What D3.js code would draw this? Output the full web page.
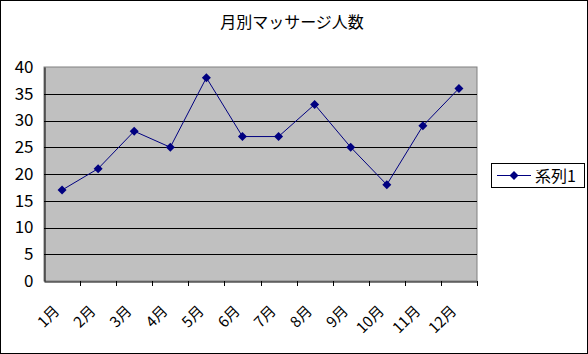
<!DOCTYPE html>
<html><head><meta charset="utf-8">
<script src="https://cdn.jsdelivr.net/npm/d3@7"></script>
<style>body{margin:0;background:#fff}svg{display:block}text{font-family:"Noto Sans CJK JP","Noto Sans",sans-serif;fill:#000}</style>
</head><body>
<script>
const title = "月別マッサージ人数";
const categories = ["1月","2月","3月","4月","5月","6月","7月","8月","9月","10月","11月","12月"];
const values = [17,21,28,25,38,27,27,33,25,18,29,36];
const yTicks = [0,5,10,15,20,25,30,35,40];
const seriesName = "系列1";

const W=588,H=354;
const svg=d3.select("body").append("svg").attr("width",W).attr("height",H);
svg.append("rect").attr("x",0.5).attr("y",0.5).attr("width",W-1).attr("height",H-1).attr("fill","#fff").attr("stroke","#000");
const L=44,R=477,T=67,B=281;
const x=d3.scaleBand().domain(categories).range([L,R]).padding(0);
const y=d3.scaleLinear().domain([0,40]).range([B,T]);

svg.append("rect").attr("x",L).attr("y",T).attr("width",R-L).attr("height",B-T).attr("fill","#c0c0c0").attr("stroke","#808080");
// gridlines
svg.append("g").selectAll("line").data(yTicks.filter(d=>d>0&&d<40)).join("line")
 .attr("x1",L).attr("x2",R).attr("y1",d=>Math.round(y(d))+0.5).attr("y2",d=>Math.round(y(d))+0.5).attr("stroke","#000");
// y axis
const ya=svg.append("g").attr("transform",`translate(${L+0.5},0)`).call(d3.axisLeft(y).tickValues(yTicks).tickSize(0).tickPadding(11));
ya.select(".domain").attr("stroke","#000");
ya.selectAll("text").attr("font-size",17).attr("font-family","'Liberation Sans',sans-serif");
// x axis
const xa=svg.append("g").attr("transform",`translate(0,${B+0.5})`).call(d3.axisBottom(x).tickSize(0));
xa.select(".domain").attr("stroke","#000");
xa.selectAll(".tick line").remove();
svg.append("g").selectAll("line").data(categories.slice(1).concat(["_end"])).join("line")
 .attr("x1",(d,i)=>Math.round(L+(i+1)*x.bandwidth())+0.5).attr("x2",(d,i)=>Math.round(L+(i+1)*x.bandwidth())+0.5)
 .attr("y1",B).attr("y2",B+5).attr("stroke","#000");
xa.selectAll("text").attr("font-size",15).attr("text-anchor","end")
 .attr("transform","translate(-9,23) rotate(-45)").attr("dy","0.7em").attr("x",0).attr("y",0);

// line
const line=d3.line().x((d,i)=>x(categories[i])+x.bandwidth()/2).y(d=>y(d));
svg.append("path").datum(values).attr("d",line).attr("fill","none").attr("stroke","#000080").attr("stroke-width",1);
const diamond="M0,-4.5L4.5,0L0,4.5L-4.5,0Z";
svg.append("g").selectAll("path").data(values).join("path")
 .attr("d",diamond).attr("transform",(d,i)=>`translate(${x(categories[i])+x.bandwidth()/2},${y(d)})`).attr("fill","#000080");

// title
svg.append("text").attr("x",292).attr("y",28).attr("text-anchor","middle").attr("font-size",16).text(title);

// legend
svg.append("rect").attr("x",491.5).attr("y",163.5).attr("width",93).attr("height",24).attr("fill","#fff").attr("stroke","#000");
svg.append("line").attr("x1",497).attr("x2",531).attr("y1",175.5).attr("y2",175.5).attr("stroke","#000080");
svg.append("path").attr("d",diamond).attr("transform","translate(514,175.5)").attr("fill","#000080");
svg.append("text").attr("x",535).attr("y",182).attr("font-size",16).text(seriesName);
</script>
</body></html>
